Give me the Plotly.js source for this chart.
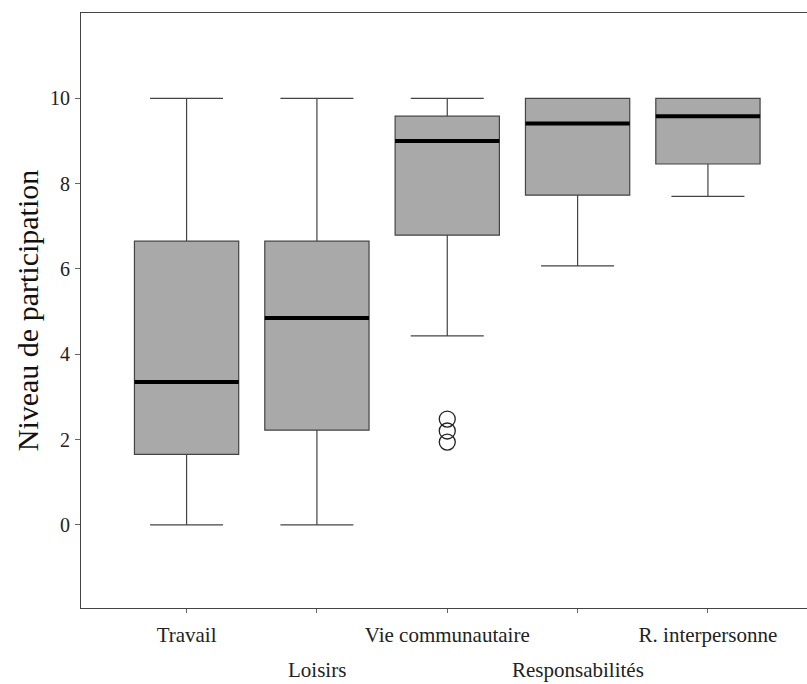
<!DOCTYPE html>
<html><head><meta charset="utf-8">
<script src="https://cdn.plot.ly/plotly-3.0.1.min.js"></script>
<style>html,body{margin:0;padding:0;background:#fff}#chart{width:807px;height:684px}</style>
</head><body><div id="chart"></div>
<script>
const categories = ['Travail','Loisirs','Vie communautaire','Responsabilités','R. interpersonne'];
const lowerWhisker = [0, 0, 4.43, 6.07, 7.7];
const q1 = [1.65, 2.22, 6.79, 7.73, 8.46];
const medians = [3.35, 4.85, 9.0, 9.41, 9.58];
const q3 = [6.65, 6.65, 9.58, 10, 10];
const upperWhisker = [10, 10, 10, 10, 10];
const outlierCat = [2, 2, 2];
const outlierVals = [2.48, 2.2, 1.94];
const yTicks = [0, 2, 4, 6, 8, 10];

const pos = categories.map((c,i)=>i);
const halfW = 0.4;
const serif = 'Liberation Serif, Times New Roman, serif';

const traces = [{
  type:'box', x:pos, q1:q1, median:medians, q3:q3,
  lowerfence:lowerWhisker, upperfence:upperWhisker,
  width:halfW*2, whiskerwidth:0.7,
  fillcolor:'#a9a9a9', line:{color:'#444', width:1.2},
  boxpoints:false, hoverinfo:'skip', showlegend:false
}];
// thick median lines
const mx=[], my=[];
pos.forEach((p,i)=>{ mx.push(p-halfW,p+halfW,null); my.push(medians[i],medians[i],null); });
traces.push({type:'scatter', mode:'lines', x:mx, y:my, line:{color:'#000', width:4}, showlegend:false, hoverinfo:'skip'});
traces.push({type:'scatter', mode:'markers', x:outlierCat, y:outlierVals,
  marker:{symbol:'circle-open', size:16, color:'#222', line:{width:1.3}}, showlegend:false, hoverinfo:'skip'});

const row1 = categories.map((c,i)=> i%2===0 ? c : '');
const annotations = categories.map((c,i)=> i%2===1 ? {
  text:c, x:pos[i], xref:'x', y:0, yref:'paper', yanchor:'middle', xanchor:'center',
  yshift:-62, showarrow:false, font:{family:serif, size:21, color:'#222'}
} : null).filter(a=>a);

const layout = {
  width:807, height:684,
  margin:{l:81, r:0, t:13, b:76},
  paper_bgcolor:'#fff', plot_bgcolor:'#fff',
  font:{family:serif, color:'#222', size:20},
  annotations:annotations,
  xaxis:{range:[-0.81,4.76], tickvals:pos, ticktext:row1, showgrid:false, zeroline:false,
    showline:true, linecolor:'#444', linewidth:1, mirror:true, ticks:'outside', ticklen:4, tickcolor:'#666',
    ticklabelstandoff:4,
    tickfont:{family:serif, size:21, color:'#222'}},
  yaxis:{range:[-1.95,12], tickvals:yTicks, showgrid:false, zeroline:false,
    showline:true, linecolor:'#444', linewidth:1, ticks:'outside', ticklen:5, tickcolor:'#666',
    ticklabelstandoff:1,
    tickfont:{family:serif, size:20, color:'#222'},
    title:{text:'Niveau de participation', font:{family:serif, size:30, color:'#111'}, standoff:2}},
};
Plotly.newPlot('chart', traces, layout, {displayModeBar:false, staticPlot:true});
</script></body></html>
